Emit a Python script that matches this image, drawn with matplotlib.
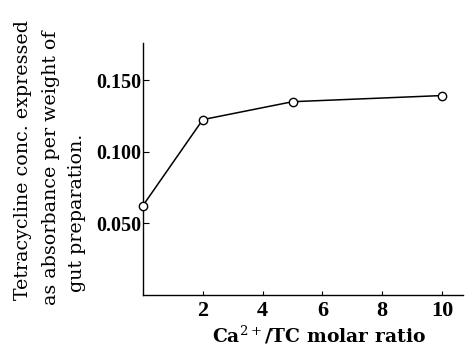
import matplotlib
matplotlib.use("Agg")
import matplotlib.pyplot as plt

ratio = [0, 2, 5, 10]
absorbance = [0.0625, 0.1225, 0.135, 0.1393]
yticks = [0.050, 0.100, 0.150]
ytick_labels = ["0.050", "0.100", "0.150"]
xticks = [2, 4, 6, 8, 10]
xtick_labels = ["2", "4", "6", "8", "10"]
ylabel_lines = ["Tetracycline conc. expressed",
                "as absorbance per weight of",
                "gut preparation."]
xlabel = r"Ca$^{2+}$/TC molar ratio"

plt.rcParams['font.family'] = ['DejaVu Serif']
plt.rcParams['mathtext.fontset'] = 'dejavuserif'

fig = plt.figure(figsize=(4.65, 3.45), dpi=100)
ax = fig.add_axes([143/465, 50/345, (463-143)/465, (295-43)/345])
ax.plot(ratio, absorbance, color='black', lw=1.1, marker='o', ms=6,
        mfc='white', mec='black', mew=1.0, clip_on=False, zorder=3)
ax.set_xlim(0, 10.7)
ax.set_ylim(0, 0.176)
ax.set_xticks(xticks)
ax.set_xticklabels(xtick_labels, fontsize=16, fontweight='bold',
                   family='Liberation Serif')
ax.set_yticks(yticks)
ax.set_yticklabels(ytick_labels, fontsize=14.5, fontweight='bold',
                   family='Liberation Serif')
ax.tick_params(axis='x', direction='in', length=3, width=0.8, pad=4)
ax.tick_params(axis='y', direction='in', length=4, width=0.8, pad=1.5)
for s in ['top', 'right']:
    ax.spines[s].set_visible(False)
for s in ['left', 'bottom']:
    ax.spines[s].set_linewidth(1.0)

fig.text(212/465, 3/345, xlabel, fontsize=13.5, fontweight='bold',
         ha='left', va='baseline')

xs = [23, 51, 77]
ybottoms = [300, 305, 292]
for line, x, yb in zip(ylabel_lines, xs, ybottoms):
    fig.text(x/465, 1 - yb/345, line, rotation=90, fontsize=13.7,
             ha='center', va='bottom')

fig.savefig("out.png", dpi=100)
